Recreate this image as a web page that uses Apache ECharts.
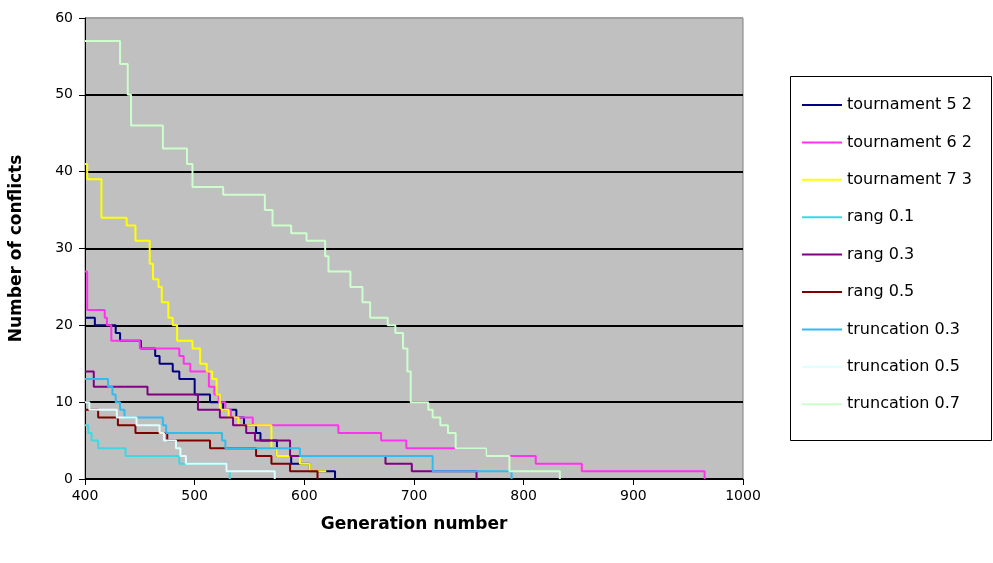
<!DOCTYPE html>
<html>
<head>
<meta charset="utf-8">
<title>Number of conflicts</title>
<script src="https://cdn.jsdelivr.net/npm/echarts@6/dist/echarts.min.js"></script>
<style>
  html, body { margin: 0; padding: 0; background: #fff; }
  #chart { width: 993px; height: 563px; }
</style>
</head>
<body>
<div id="chart"></div>
<script>
// [generation, conflicts] step points
const tournament52 = [[400,21],[409,20],[428,19],[432,18],[451,17],[464,16],[468,15],[480,14],[486,13],[500,11],[514,10],[526,9],[538,8],[545,7],[556,6],[560,5],[575,3],[588,2],[605,1],[628,0]];
const tournament62 = [[400,27],[402,22],[418,21],[420,20],[424,18],[450,17],[486,16],[490,15],[496,14],[513,12],[518,11],[522,10],[528,9],[533,8],[553,7],[631,6],[670,5],[693,4],[766,3],[811,2],[853,1],[965,0]];
const tournament73 = [[400,41],[402,39],[415,34],[438,33],[446,31],[459,28],[462,26],[467,25],[470,23],[476,21],[480,20],[484,18],[498,17],[505,15],[511,14],[516,13],[520,11],[523,9],[531,8],[540,7],[570,4],[575,3],[596,2],[605,1],[620,1]];
const rang01 = [[400,7],[403,6],[406,5],[412,4],[437,3],[486,2],[529,1],[532,0]];
const rang03 = [[400,14],[408,12],[457,11],[503,9],[523,8],[535,7],[547,6],[555,5],[587,3],[674,2],[698,1],[757,0]];
const rang05 = [[400,9],[412,8],[430,7],[446,6],[475,5],[514,4],[556,3],[570,2],[587,1],[612,0]];
const truncation03 = [[400,13],[421,12],[425,11],[428,10],[432,9],[436,8],[471,7],[474,6],[525,5],[528,4],[596,3],[717,1],[789,0]];
const truncation05 = [[400,10],[404,9],[429,8],[447,7],[468,6],[472,5],[483,4],[487,3],[492,2],[529,1],[573,0]];
const truncation07 = [[400,57],[432,54],[439,50],[442,46],[471,43],[493,41],[498,38],[526,37],[564,35],[571,33],[588,32],[602,31],[619,29],[622,27],[642,25],[653,23],[660,21],[676,20],[683,19],[690,17],[694,14],[697,10],[713,9],[717,8],[724,7],[731,6],[738,4],[766,3],[787,1],[833,0]];

const seriesNames = ['tournament 5 2', 'tournament 6 2', 'tournament 7 3', 'rang 0.1', 'rang 0.3', 'rang 0.5', 'truncation 0.3', 'truncation 0.5', 'truncation 0.7'];
const seriesData = [tournament52, tournament62, tournament73, rang01, rang03, rang05, truncation03, truncation05, truncation07];
const seriesColors = ['#000080', '#FF33EE', '#FFFF00', '#3DD8E0', '#800080', '#800000', '#33BBEE', '#DDFFFF', '#CCFFCC'];

const chart = echarts.init(document.getElementById('chart'));
const fontFamily = 'DejaVu Sans';

chart.setOption({
  animation: false,
  backgroundColor: '#fff',
  graphic: [
    {
      // legend frame
      type: 'rect',
      shape: { x: 790.5, y: 76.5, width: 201, height: 364 },
      style: { fill: '#fff', stroke: '#000', lineWidth: 1 },
      z: -1
    }
  ],
  grid: {
    left: 85,
    right: 250,
    top: 18,
    bottom: 84,
    show: true,
    backgroundColor: '#C0C0C0',
    borderColor: '#808080',
    borderWidth: 1
  },
  legend: {
    orient: 'vertical',
    left: 797,
    top: 90,
    icon: 'rect',
    itemWidth: 40,
    itemHeight: 2,
    itemGap: 17.4,
    textStyle: { fontFamily, fontSize: 16, lineHeight: 20, color: '#000' },
    data: seriesNames
  },
  xAxis: {
    type: 'value',
    min: 400,
    max: 1000,
    interval: 100,
    name: 'Generation number',
    nameLocation: 'middle',
    nameGap: 37,
    nameTextStyle: { fontFamily, fontSize: 17, fontWeight: 'bold', color: '#000' },
    axisLine: { show: true, lineStyle: { color: '#000', width: 1 } },
    axisTick: { show: true, inside: false, length: 6, lineStyle: { color: '#000' } },
    axisLabel: { fontFamily, fontSize: 14, color: '#000', margin: 10, formatter: (v) => String(v) },
    splitLine: { show: false }
  },
  yAxis: {
    type: 'value',
    min: 0,
    max: 60,
    interval: 10,
    name: 'Number of conflicts',
    nameLocation: 'middle',
    nameGap: 60,
    nameTextStyle: { fontFamily, fontSize: 17, fontWeight: 'bold', color: '#000' },
    axisLine: { show: true, lineStyle: { color: '#000', width: 1 } },
    axisTick: { show: true, inside: false, length: 6, lineStyle: { color: '#000' } },
    axisLabel: { fontFamily, fontSize: 14, color: '#000', margin: 12 },
    splitLine: {
      show: true,
      // top line is the grey plot border, not a black gridline
      lineStyle: { color: ['#000', '#000', '#000', '#000', '#000', '#000', '#A0A0A0'], width: 2 }
    }
  },
  series: seriesNames.map((name, i) => ({
    name,
    type: 'line',
    step: 'end',
    data: seriesData[i],
    showSymbol: false,
    color: seriesColors[i],
    lineStyle: { width: 2, color: seriesColors[i] }
  }))
});
</script>
</body>
</html>
